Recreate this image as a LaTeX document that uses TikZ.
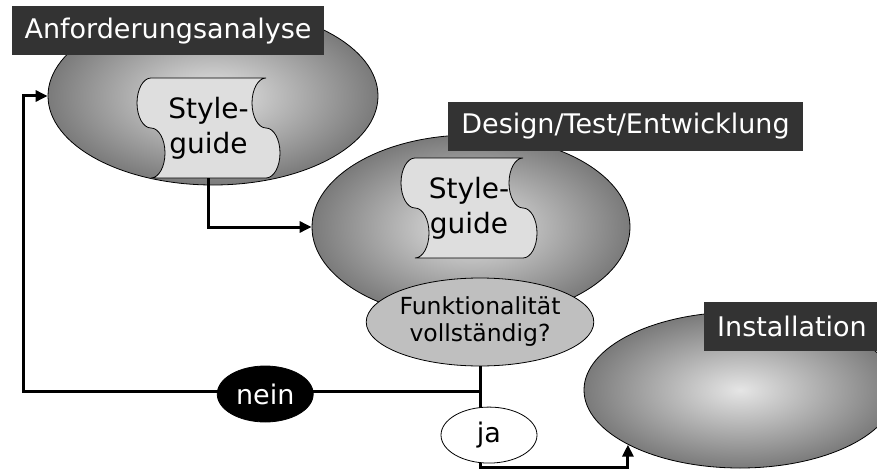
\documentclass[tikz,border=0pt]{standalone}
\usepackage{fontspec}
\setmainfont{DejaVu Sans}
\usepackage{tikz}
\usetikzlibrary{shapes, calc, arrows.meta, positioning}

\begin{document}
\begin{tikzpicture}[x=1pt,y=-1pt,>={Triangle[length=12pt,width=11pt]},
	phase/.style={ellipse, draw=black, line width=0.8pt, shading=radial, inner color=black!10, outer color=black!52, inner sep=0pt},
	title/.style={fill=black!80, text=white, font=\fontsize{27}{30}\selectfont, minimum height=49pt, inner xsep=13pt, inner ysep=0pt},
	answer/.style={ellipse, draw=black, line width=0.8pt, minimum width=96pt, minimum height=56pt, inner sep=0pt, font=\fontsize{27}{30}\selectfont},
	link/.style={line width=3pt}]
	\tikzset{sheet/.style={fill=black!13, draw=black, line width=0.8pt}}
	\useasboundingbox (0,0) rectangle (877,468);

	% phases
	\node[phase, minimum width=330pt, minimum height=178pt] (anf) at (213,96) {};
	\node[phase, minimum width=318pt, minimum height=184pt] (ent) at (471,227) {};
	\node[phase, minimum width=312pt, minimum height=156pt] (inst) at (740,390) {};

	% styleguide sheets
	\foreach \nm/\cx/\cy/\hw in {sg1/208.5/128/57.5, sg2/469/208/54} {
		\filldraw[sheet] (\cx-\hw,\cy-50) -- (\cx+\hw,\cy-50)
			arc[start angle=270, end angle=90, x radius=14, y radius=25]
			arc[start angle=270, end angle=450, x radius=14, y radius=25]
			-- (\cx-\hw,\cy+50)
			arc[start angle=90, end angle=-90, x radius=14, y radius=25]
			arc[start angle=90, end angle=270, x radius=14, y radius=25]
			-- cycle;
		\node[minimum width=2*\hw pt, minimum height=100pt, align=center, font=\fontsize{28}{35}\selectfont] (\nm) at (\cx,\cy) {Style-\\guide};
	}

	\node[ellipse, draw=black, line width=0.8pt, fill=black!25, minimum width=224pt, minimum height=88pt, inner sep=0pt, align=center, font=\fontsize{23.5}{27}\selectfont] (fkt) at (480,322) {Funktionalität\\vollständig?};

	% titles
	\node[title] (t1) at (168,31) {Anforderungsanalyse};
	\node[title] (t2) at (625.5,126.5) {Design/Test/Entwicklung};
	\node[title, anchor=west] (t3) at (704,326.5) {Installation};

	% connectors
	\coordinate (split) at (480,391);
	\coordinate (back) at (23,391);
	\coordinate (down) at (480,467);
	\draw[link, ->] (sg1.south) |- (ent.west);
	\draw[link] (fkt.south) -- (split);
	\draw[link, ->] (split) -- node[answer, pos=0.47, fill=black, text=white, yshift=-3pt] (nein) {nein} (back) |- (anf.west);
	\draw[link, ->] (split) -- node[answer, pos=0.58, fill=white, xshift=9pt] (ja) {ja} (down) -| (inst.206);
\end{tikzpicture}
\end{document}
